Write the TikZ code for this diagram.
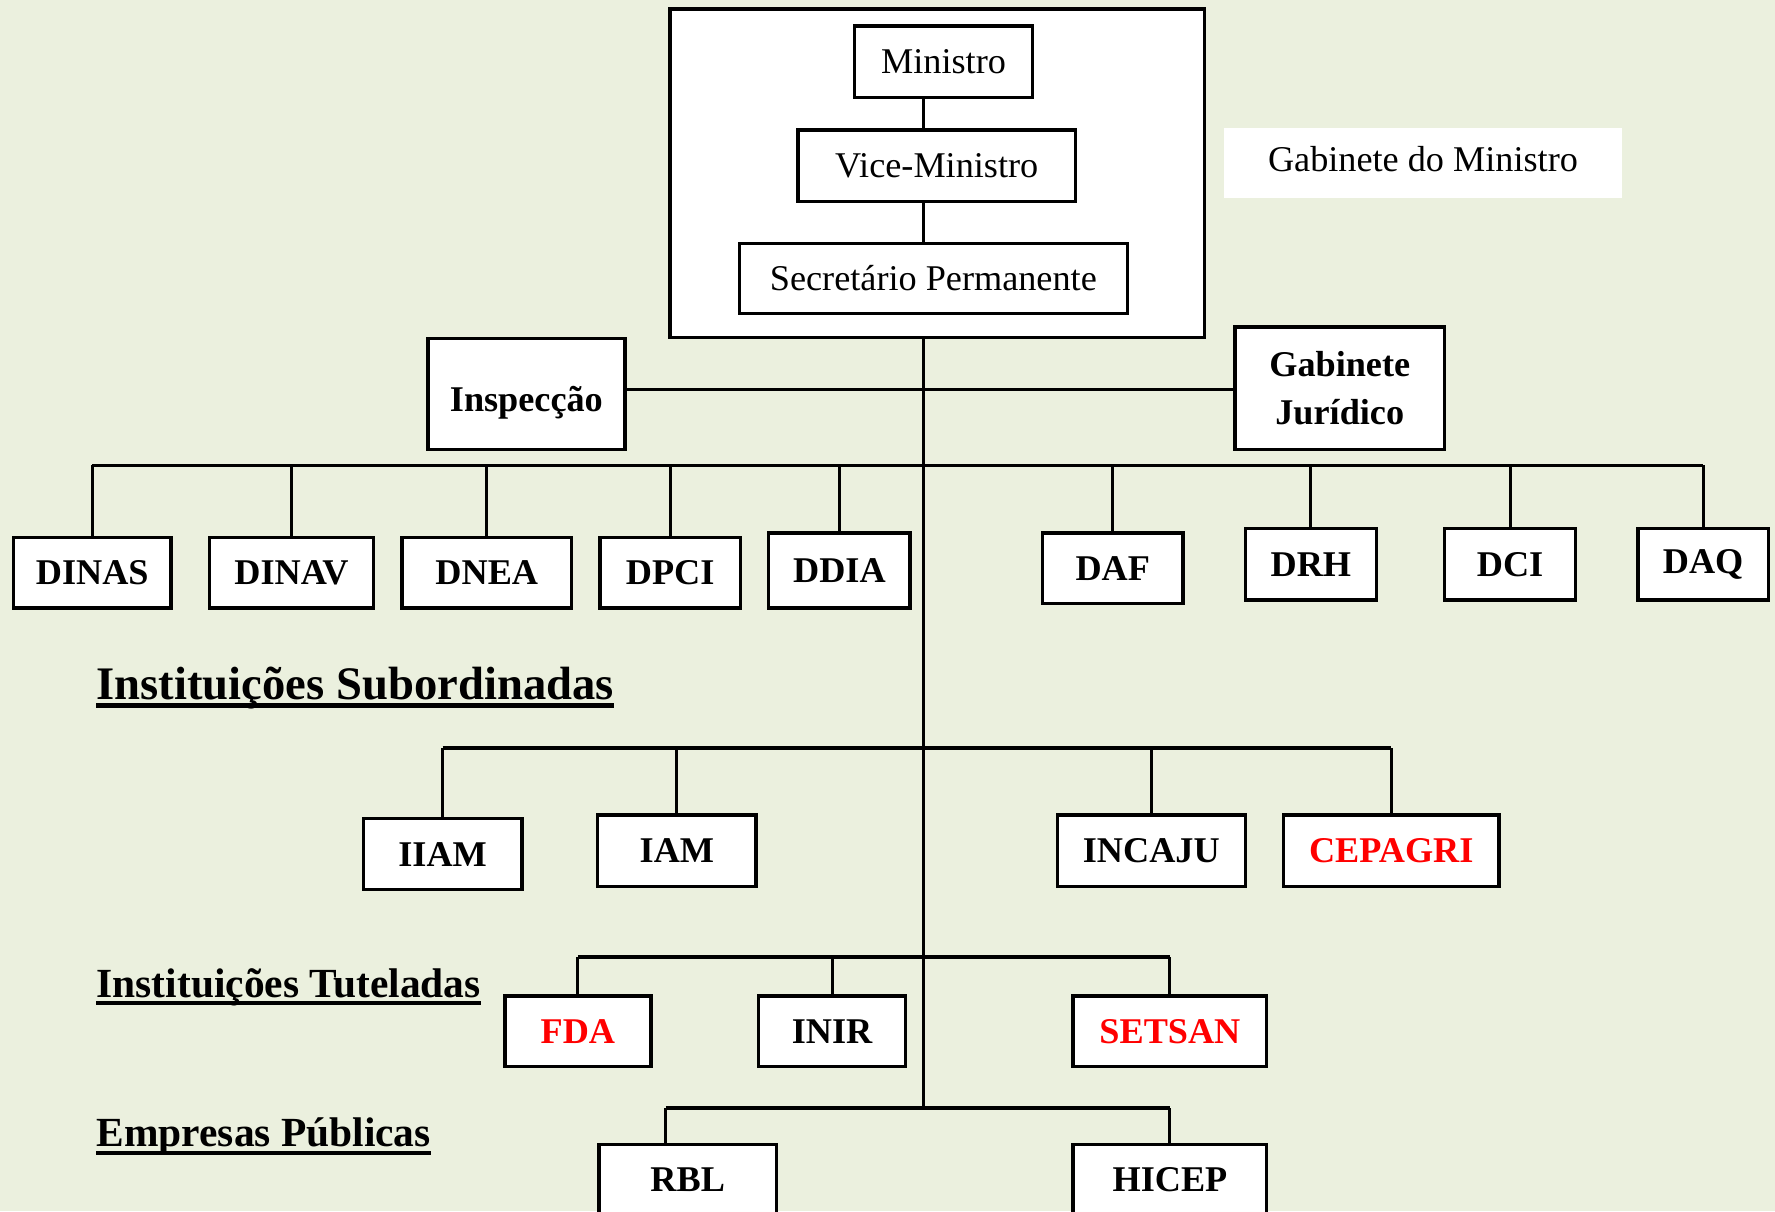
\documentclass[tikz,border=0pt]{standalone}
\usepackage{fontspec}
\setmainfont{Liberation Serif}
\definecolor{panel}{RGB}{235,240,222}

\begin{document}
\begin{tikzpicture}[x = 0.5pt, y = -0.5pt,
	box/.style = {draw, line width = 1.5pt, fill = white, inner sep = 0pt, minimum height = 31pt, font = \fontsize{16}{19}\selectfont},
	unit/.style = {box, font = \fontsize{16}{19}\selectfont\bfseries},
	heading/.style = {anchor = base west, inner sep = 0pt, font = \fontsize{18.3}{22}\selectfont\bfseries},
	link/.style = {line width = 1.3pt},
	bar/.style = {line width = 1.8pt},
	ul/.style = {line width = 1.8pt}]

	% Background

	\fill [panel] (0, 0) rectangle (1568, 1070);
	\useasboundingbox (0, 0) rectangle (1568, 1070);

	% Minister's office

	\node (office) [draw, line width = 1.5pt, fill = white, minimum width = 236pt, minimum height = 145pt] at (828, 153) {};
	\node (min) [box, minimum width = 78.5pt, minimum height = 31.5pt] at (833.5, 54.5) {Ministro};
	\node (vice) [box, minimum width = 122.5pt, minimum height = 31.5pt] at (827.5, 146.5) {Vice-Ministro};
	\node (sec) [box, minimum width = 171.5pt] at (824.5, 246) {Secretário Permanente};
	\node (gab) [fill = white, minimum width = 176pt, minimum height = 31pt, text depth = 4pt, font = \fontsize{16}{19}\selectfont] at (1257, 144) {Gabinete do Ministro};

	% Inspection and legal office

	\node (insp) [unit, minimum width = 87pt, minimum height = 49pt, text height = 19pt] at (465, 348) {Inspecção};
	\node (gj) [unit, minimum width = 92.5pt, minimum height = 54pt, align = center, font = \fontsize{16}{21.5}\selectfont\bfseries] at (1183.5, 343) {Gabinete\\Jurídico};

	% Directorates

	\node (dinas) [unit, minimum width = 69.5pt] at (81.5, 506) {DINAS};
	\node (dinav) [unit, minimum width = 72.5pt] at (257.5, 506) {DINAV};
	\node (dnea) [unit, minimum width = 75pt] at (430, 506) {DNEA};
	\node (dpci) [unit, minimum width = 62pt] at (592, 506) {DPCI};
	\node (ddia) [unit, minimum width = 62.5pt, minimum height = 33pt] at (741.5, 504) {DDIA};
	\node (daf) [unit, minimum width = 62pt] at (983, 502) {DAF};
	\node (drh) [unit, minimum width = 58pt, minimum height = 31.5pt] at (1158, 498.5) {DRH};
	\node (dci) [unit, minimum width = 58pt, minimum height = 31.5pt] at (1334, 498.5) {DCI};
	\node (daq) [unit, minimum width = 57.5pt, minimum height = 31.5pt] at (1504.5, 498.5) {DAQ};

	% Subordinate institutions

	\node (subord) [heading, font = \fontsize{20.6}{24}\selectfont\bfseries] at (85, 618) {Instituições Subordinadas};
	\draw [ul] ([yshift = -2.6pt] subord.base west) -- ([yshift = -2.6pt] subord.base east);

	\node (iiam) [unit, minimum width = 70pt, minimum height = 31.5pt] at (391, 754.5) {IIAM};
	\node (iam) [unit, minimum width = 70pt, minimum height = 31.5pt] at (598, 751.5) {IAM};
	\node (incaju) [unit, minimum width = 83pt, minimum height = 31.5pt] at (1017, 751.5) {INCAJU};
	\node (cepagri) [unit, minimum width = 95pt, minimum height = 31.5pt, text = red] at (1229, 751.5) {CEPAGRI};

	% Supervised institutions

	\node (tutel) [heading] at (85, 881) {Instituições Tuteladas};
	\draw [ul] ([yshift = -2.4pt] tutel.base west) -- ([yshift = -2.4pt] tutel.base east);

	\node (fda) [unit, minimum width = 64.5pt, text = red] at (510.5, 911) {FDA};
	\node (inir) [unit, minimum width = 65pt] at (735, 911) {INIR};
	\node (setsan) [unit, minimum width = 85.5pt, text = red] at (1033.5, 911) {SETSAN};

	% Public companies

	\node (empr) [heading] at (85, 1013) {Empresas Públicas};
	\draw [ul] ([yshift = -2.6pt] empr.base west) -- ([yshift = -2.6pt] empr.base east);

	\node (rbl) [unit, minimum width = 78.5pt] at (607.5, 1042) {RBL};
	\node (hicep) [unit, minimum width = 85.5pt] at (1033.5, 1042) {HICEP};

	% Spine

	\coordinate (spine) at (816, 298);
	\coordinate (jins) at (816, 344);
	\coordinate (jdir) at (816, 411);
	\coordinate (jsub) at (816, 661);
	\coordinate (jtut) at (816, 845);
	\coordinate (jemp) at (816, 979);
	\coordinate (rbltop) at ([xshift = -9.75pt] rbl.north);

	\draw [link] (min.south -| spine) -- (vice.north -| spine);
	\draw [link] (vice.south -| spine) -- (sec.north -| spine);
	\draw [link] (spine) -- (jemp);
	\draw [link] (insp.east |- jins) -- (gj.west |- jins);

	% Directorate bar

	\draw [link] (dinas.north |- jdir) -- (daq.north |- jdir);
	\draw [link] (dinas.north) -- (dinas.north |- jdir);
	\draw [link] (dinav.north) -- (dinav.north |- jdir);
	\draw [link] (dnea.north) -- (dnea.north |- jdir);
	\draw [link] (dpci.north) -- (dpci.north |- jdir);
	\draw [link] (ddia.north) -- (ddia.north |- jdir);
	\draw [link] (daf.north) -- (daf.north |- jdir);
	\draw [link] (drh.north) -- (drh.north |- jdir);
	\draw [link] (dci.north) -- (dci.north |- jdir);
	\draw [link] (daq.north) -- (daq.north |- jdir);

	% Subordinate bar

	\draw [bar] (iiam.north |- jsub) -- (cepagri.north |- jsub);
	\draw [link] (iiam.north) -- (iiam.north |- jsub);
	\draw [link] (iam.north) -- (iam.north |- jsub);
	\draw [link] (incaju.north) -- (incaju.north |- jsub);
	\draw [link] (cepagri.north) -- (cepagri.north |- jsub);

	% Supervised bar

	\draw [bar] (fda.north |- jtut) -- (setsan.north |- jtut);
	\draw [link] (fda.north) -- (fda.north |- jtut);
	\draw [link] (inir.north) -- (inir.north |- jtut);
	\draw [link] (setsan.north) -- (setsan.north |- jtut);

	% Companies bar

	\draw [bar] (rbltop |- jemp) -- (hicep.north |- jemp);
	\draw [link] (rbltop) -- (rbltop |- jemp);
	\draw [link] (hicep.north) -- (hicep.north |- jemp);

\end{tikzpicture}
\end{document}
